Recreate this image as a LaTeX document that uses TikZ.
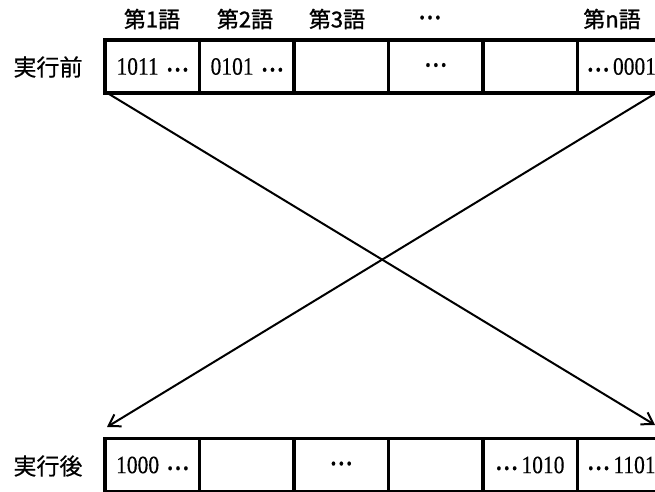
\documentclass[tikz,border=0pt]{standalone}
\usepackage{fontspec}
\setmainfont{Liberation Serif}[FakeStretch=0.86, FakeBold=0.3]
\newfontfamily\jpb[FakeBold=1.2]{Noto Sans CJK JP}
\newfontfamily\jpm[FakeBold=0.5]{Noto Sans CJK JP}
\usetikzlibrary{arrows.meta}
\tikzset{
  cell/.style={draw, line width=1.8pt, minimum width=92.7pt, minimum height=51pt, inner sep=0pt, font=\fontsize{25}{28}\selectfont},
  outline/.style={line width=3.5pt, line cap=rect},
  head/.style={font=\jpb\fontsize{22}{26}\selectfont, inner sep=0pt},
  side/.style={font=\jpm\fontsize{23}{26}\selectfont, inner sep=0pt},
  move/.style={line width=2pt, -{Straight Barb[length=11pt,width=14pt,line width=2pt]}}
}
\newcommand{\dts}{\raisebox{0.13em}{\textbf{.\kern0.1em.\kern0.1em.}}}
\newcommand{\cl}[1]{\raisebox{-2pt}{#1}}
\begin{document}
\begin{tikzpicture}[x=1pt,y=-1pt]
\useasboundingbox (0,0) rectangle (655,491);
\clip (0,0) rectangle (655,491);
% top register
\node[cell] (a1) at (152.35,66.5) {\cl{1011\,\,\dts}};
\node[cell, anchor=west] (a2) at (a1.east) {\cl{0101\,\,\dts}};
\node[cell, anchor=west] (a3) at (a2.east) {};
\node[cell, anchor=west] (a4) at (a3.east) {\cl{\dts}};
\node[cell, anchor=west] (a5) at (a4.east) {};
\node[cell, anchor=west] (a6) at (a5.east) {\hspace*{-6pt}\cl{\dts\,0001}};
\draw[outline] (a6.north east) -- (a1.north west) -- (a1.south west) -- (a6.south east);
% bottom register
\node[cell] (b1) at (152.35,465) {\cl{1000\,\,\dts}};
\node[cell, anchor=west] (b2) at (b1.east) {};
\node[cell, anchor=west] (b3) at (b2.east) {\cl{\dts}};
\node[cell, anchor=west] (b4) at (b3.east) {};
\node[cell, anchor=west] (b5) at (b4.east) {\cl{\dts\,1010}};
\node[cell, anchor=west] (b6) at (b5.east) {\hspace*{-6pt}\cl{\dts\,1101}};
\draw[outline] (b6.north east) -- (b1.north west) -- (b1.south west) -- (b6.south east);
% headers
\node[head] (h1) at (152,19) {第1語};
\node[head] (h2) at (245,19) {第2語};
\node[head] (h3) at (337,19) {第3語};
\node[head, font=\fontsize{25}{28}\selectfont] (h4) at (430,19) {\dts};
\node[head] (h6) at (612,19) {第n語};
% side labels
\node[side] (before) at (48,67) {実行前};
\node[side] (after) at (48,466) {実行後};
% arrows
\coordinate (s1) at (109,94);
\coordinate (s2) at (656,93);
\coordinate (e1) at (655,425);
\coordinate (e2) at (107,427);
\draw[move] (s1) -- (e1);
\draw[move] (s2) -- (e2);
\end{tikzpicture}
\end{document}
